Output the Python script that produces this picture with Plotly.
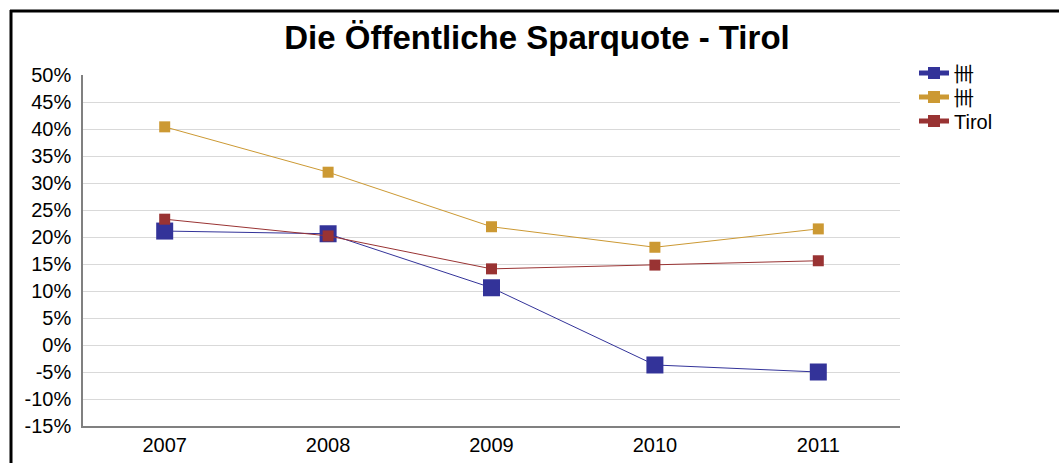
import plotly.graph_objects as go

years = ["2007", "2008", "2009", "2010", "2011"]
series_names = ["卌", "卌", "Tirol"]
blue_vals = [21.1, 20.6, 10.6, -3.7, -5.0]
gold_vals = [40.4, 32.0, 21.9, 18.1, 21.5]
red_vals = [23.3, 20.2, 14.1, 14.8, 15.6]
tick_vals = list(range(-15, 51, 5))
tick_text = [f"{v}%" for v in tick_vals]

colors = ["#333399", "#CC9933", "#993333"]
marker_sizes = [17, 11, 11]
legend_ids = ["legend", "legend2", "legend3"]

fig = go.Figure()
for name, vals, col, ms, lg in zip(series_names, [blue_vals, gold_vals, red_vals], colors, marker_sizes, legend_ids):
    fig.add_trace(go.Scatter(
        x=years, y=vals, name=name, mode="lines+markers",
        line=dict(color=col, width=1),
        marker=dict(symbol="square", size=ms, color=col),
        legend=lg,
    ))

W, H = 1059, 463
L, R, T, B = 83, W - 900, 75, H - 426
pw, ph = W - L - R, H - T - B

def px_x(x):
    return (x - L) / pw

def px_y(y):
    return (H - B - y) / ph

legend_centers = [73, 97, 121]
legend_layouts = {}
for lg, cy in zip(legend_ids, legend_centers):
    legend_layouts[lg] = dict(x=px_x(914), y=px_y(cy), xanchor="left", yanchor="middle",
                              font=dict(size=20), itemsizing="constant",
                              bgcolor="rgba(0,0,0,0)")

fig.update_layout(
    width=W, height=H,
    margin=dict(l=L, r=R, t=T, b=B, autoexpand=False),
    paper_bgcolor="white", plot_bgcolor="white",
    font=dict(family="Liberation Sans, Arial, sans-serif", size=20, color="black"),
    title=dict(text="<b>Die Öffentliche Sparquote - Tirol</b>", x=537 / W, xanchor="center",
               y=1 - 37 / H, yanchor="middle", font=dict(size=33, color="black")),
    showlegend=True,
    xaxis=dict(type="category", range=[-0.5, 4.5], showgrid=False, automargin=False,
               showline=True, linecolor="#808080", linewidth=1.5,
               ticks="", tickfont=dict(size=20)),
    yaxis=dict(range=[-15, 50], tickvals=tick_vals, ticktext=tick_text, automargin=False,
               showgrid=True, gridcolor="#d9d9d9", gridwidth=1,
               showline=True, linecolor="#808080", linewidth=1.5,
               zeroline=False, ticks="", tickfont=dict(size=20), ticklabelstandoff=6),
    shapes=[
        dict(type="line", xref="paper", yref="paper",
             x0=px_x(11), x1=px_x(11), y0=px_y(10), y1=px_y(480),
             line=dict(color="black", width=3)),
        dict(type="line", xref="paper", yref="paper",
             x0=px_x(10), x1=px_x(1070), y0=px_y(11), y1=px_y(11),
             line=dict(color="black", width=3)),
    ],
    **legend_layouts,
)

fig.write_html("out.html", config={"displayModeBar": False})

with open("out.html", "r", encoding="utf-8") as f:
    html = f.read()
html = html.replace("<head>", "<head><style>html,body{margin:0;padding:0;overflow:hidden;}</style>", 1)
with open("out.html", "w", encoding="utf-8") as f:
    f.write(html)
